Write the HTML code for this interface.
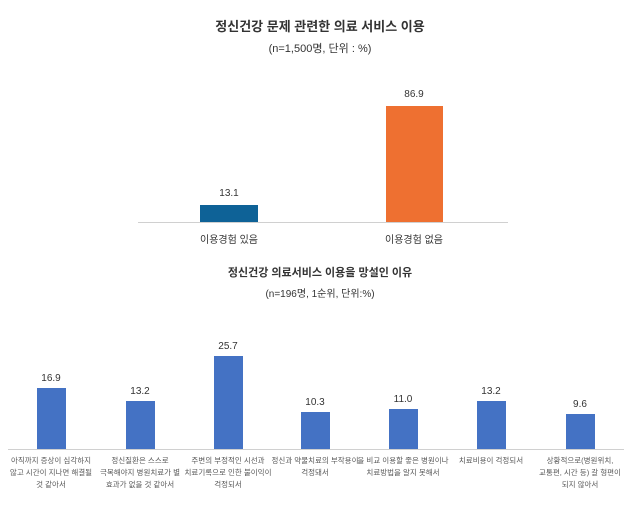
<!DOCTYPE html><html><head><meta charset="utf-8"><style>
body{margin:0;width:640px;height:509px;background:#fff;font-family:"Liberation Sans","Noto Sans CJK KR",sans-serif;position:relative;overflow:hidden;color:#404040}
.a{position:absolute;white-space:nowrap}
.c{transform:translateX(-50%);text-align:center}
.bar{position:absolute}
.l{position:absolute;transform:translateX(-50%);text-align:center;font-size:7.5px;line-height:12px;color:#595959;white-space:nowrap}
.v{position:absolute;transform:translateX(-50%);font-size:10px;color:#333}
</style></head><body>
<div class="a c" style="left:320px;top:16px;font-size:13px;font-weight:bold;color:#333">정신건강 문제 관련한 의료 서비스 이용</div>
<div class="a c" style="left:320px;top:40px;font-size:11px;color:#333">(n=1,500명, 단위 : %)</div>
<div class="bar" style="left:200px;top:205px;width:58px;height:17px;background:#0e6297"></div>
<div class="bar" style="left:386px;top:106px;width:57px;height:116px;background:#ee7031"></div>
<div class="a" style="left:138px;top:222px;width:370px;height:1px;background:#d0d0d0"></div>
<div class="v" style="left:229px;top:188px">13.1</div>
<div class="v" style="left:414px;top:89px">86.9</div>
<div class="a c" style="left:229px;top:231px;font-size:10px;color:#333">이용경험 있음</div>
<div class="a c" style="left:414px;top:231px;font-size:10px;color:#333">이용경험 없음</div>
<div class="a c" style="left:320px;top:264px;font-size:11px;font-weight:bold;color:#333">정신건강 의료서비스 이용을 망설인 이유</div>
<div class="a c" style="left:320px;top:285px;font-size:10px;color:#333">(n=196명, 1순위, 단위:%)</div>
<div class="a" style="left:8px;top:449px;width:296px;height:1px;background:#d0d0d0"></div>
<div class="a" style="left:8px;top:449px;width:616px;height:1px;background:#d0d0d0"></div>
<div class="bar" style="left:37px;top:388px;width:29px;height:61px;background:#4472c4"></div>
<div class="bar" style="left:126px;top:401px;width:29px;height:48px;background:#4472c4"></div>
<div class="bar" style="left:214px;top:356px;width:29px;height:93px;background:#4472c4"></div>
<div class="bar" style="left:301px;top:412px;width:29px;height:37px;background:#4472c4"></div>
<div class="bar" style="left:389px;top:409px;width:29px;height:40px;background:#4472c4"></div>
<div class="bar" style="left:477px;top:401px;width:29px;height:48px;background:#4472c4"></div>
<div class="bar" style="left:566px;top:414px;width:29px;height:35px;background:#4472c4"></div>
<div class="v" style="left:51px;top:373px">16.9</div>
<div class="v" style="left:140px;top:386px">13.2</div>
<div class="v" style="left:228px;top:341px">25.7</div>
<div class="v" style="left:315px;top:397px">10.3</div>
<div class="v" style="left:403px;top:394px">11.0</div>
<div class="v" style="left:491px;top:386px">13.2</div>
<div class="v" style="left:580px;top:399px">9.6</div>
<div class="l" style="left:51px;top:455px">아직까지 증상이 심각하지<br>않고 시간이 지나면 해결될<br>것 같아서</div>
<div class="l" style="left:140px;top:455px">정신질환은 스스로<br>극복해야지 병원치료가 별<br>효과가 없을 것 같아서</div>
<div class="l" style="left:228px;top:455px">주변의 부정적인 시선과<br>치료기록으로 인한 불이익이<br>걱정되서</div>
<div class="l" style="left:315px;top:455px">정신과 약물치료의 부작용이<br>걱정돼서</div>
<div class="l" style="left:403px;top:455px">을 비교 이용할 좋은 병원이나<br>치료방법을 알지 못해서</div>
<div class="l" style="left:491px;top:455px">치료비용이 걱정되서</div>
<div class="l" style="left:580px;top:455px">상황적으로(병원위치,<br>교통편, 시간 등) 갈 형편이<br>되지 않아서</div>
</body></html>
